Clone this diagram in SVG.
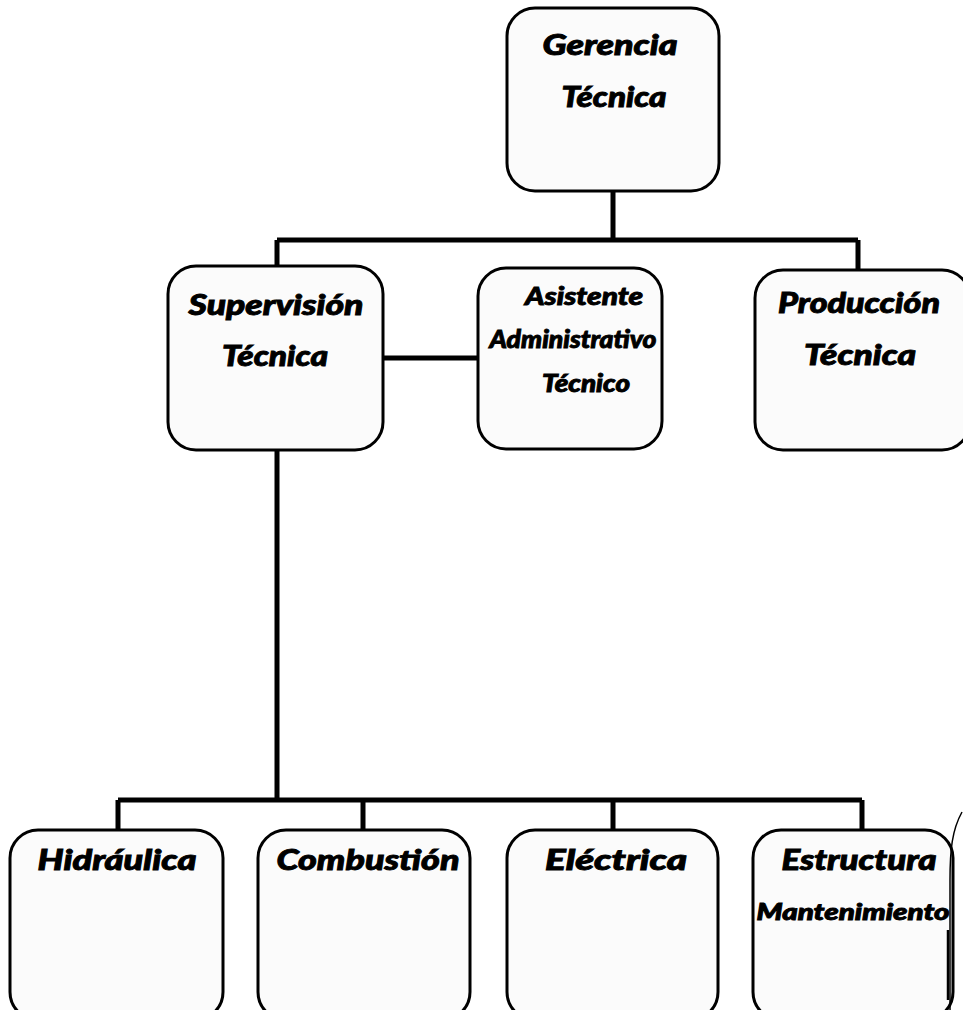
<svg xmlns="http://www.w3.org/2000/svg" width="963" height="1010" viewBox="0 0 963 1010">
<style>
.box{fill:#fbfbfb;stroke:#000;stroke-width:3}
.t{font-family:Lato,"Open Sans","Liberation Sans",sans-serif;font-weight:900;font-style:italic;fill:#000;stroke:#000;stroke-width:0.9;text-anchor:middle}
.big{font-size:28px}
.mid{font-size:24px}
.sm{font-size:22px}
.ln{stroke:#000;stroke-width:5;fill:none}
</style>
<rect width="963" height="1010" fill="#fff"/>
<g id="connectors">
<path class="ln" d="M613 192V240M277 240H858M277 240V266M858 240V270"/>
<path class="ln" d="M383 358H479"/>
<path class="ln" d="M277 450V800M118 800H862M118 800V830M363 800V830M613 800V830M862 800V830"/>
</g>
<g id="gerencia"><rect class="box" x="507" y="8" width="212" height="183" rx="28"/>
<text class="t big" x="610" y="55" textLength="135" lengthAdjust="spacingAndGlyphs">Gerencia</text><text class="t big" x="614" y="107" textLength="105" lengthAdjust="spacingAndGlyphs">Técnica</text></g>
<g id="supervision"><rect class="box" x="168" y="266" width="215" height="184" rx="28"/>
<text class="t big" x="276" y="315" textLength="175" lengthAdjust="spacingAndGlyphs">Supervisión</text><text class="t big" x="275" y="366" textLength="106" lengthAdjust="spacingAndGlyphs">Técnica</text></g>
<g id="asistente"><rect class="box" x="478" y="268" width="184" height="181" rx="28"/>
<text class="t mid" x="584" y="305" textLength="118" lengthAdjust="spacingAndGlyphs">Asistente</text><text class="t mid" x="573" y="348" textLength="167" lengthAdjust="spacingAndGlyphs">Administrativo</text><text class="t mid" x="586" y="392" textLength="88" lengthAdjust="spacingAndGlyphs">Técnico</text></g>
<g id="produccion"><rect class="box" x="755" y="270" width="215" height="180" rx="28"/>
<text class="t big" x="859" y="313" textLength="162" lengthAdjust="spacingAndGlyphs">Producción</text><text class="t big" x="860" y="365" textLength="112" lengthAdjust="spacingAndGlyphs">Técnica</text></g>
<g id="hidraulica"><rect class="box" x="10" y="830" width="213" height="190" rx="28"/>
<text class="t big" x="117" y="870" textLength="159" lengthAdjust="spacingAndGlyphs">Hidráulica</text></g>
<g id="combustion"><rect class="box" x="258" y="830" width="212" height="190" rx="28"/>
<text class="t big" x="368" y="870" textLength="183" lengthAdjust="spacingAndGlyphs">Combustión</text></g>
<g id="electrica"><rect class="box" x="507" y="830" width="211" height="190" rx="28"/>
<text class="t big" x="616" y="870" textLength="142" lengthAdjust="spacingAndGlyphs">Eléctrica</text></g>
<g id="estructura"><rect class="box" x="753" y="830" width="200" height="190" rx="28"/>
<text class="t big" x="859" y="870" textLength="155" lengthAdjust="spacingAndGlyphs">Estructura</text><text class="t sm" x="853" y="920" textLength="193" lengthAdjust="spacingAndGlyphs">Mantenimiento</text></g>
<path d="M962 812C952 830 950 850 950 880L950 1010" fill="none" stroke="#000" stroke-width="1.5"/>
<path d="M948 930V1000" stroke="#000" stroke-width="2.5"/>
</svg>
